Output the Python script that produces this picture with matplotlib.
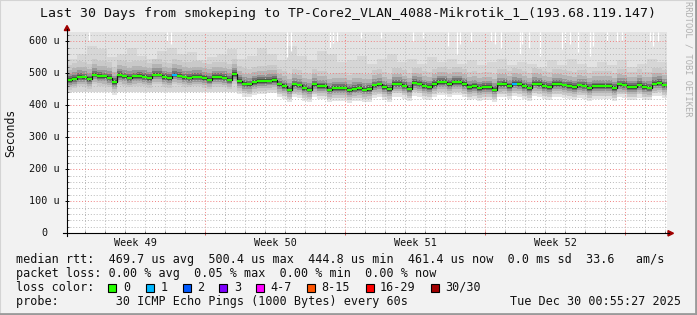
import numpy as np
import matplotlib
matplotlib.use("Agg")
import matplotlib.pyplot as plt
from matplotlib.patches import Rectangle, Polygon
from matplotlib.lines import Line2D
from matplotlib import transforms

# ---------------- data ----------------
title = "Last 30 Days from smokeping to TP-Core2_VLAN_4088-Mikrotik_1_(193.68.119.147)"
step_days = 0.25  # sample spacing (days)
# median rtt (microseconds), one value per 6 hours over 30 days
median_us = [
    478, 483, 489, 487, 481, 496, 491, 490, 486, 472,
    494, 490, 486, 490, 491, 489, 485, 496, 496, 488,
    485, 496, 493, 487, 486, 489, 489, 484, 480, 488,
    488, 486, 480, 497, 475, 467, 465, 472, 476, 476,
    477, 478, 465, 459, 449, 465, 462, 454, 449, 465,
    459, 459, 449, 454, 454, 453, 447, 452, 454, 449,
    451, 462, 465, 456, 450, 467, 467, 461, 452, 470,
    467, 460, 457, 466, 473, 472, 466, 473, 473, 466,
    456, 459, 454, 457, 457, 449, 465, 466, 459, 468,
    466, 459, 454, 468, 466, 460, 457, 466, 466, 462,
    460, 457, 462, 461, 454, 459, 459, 459, 459, 454,
    465, 464, 457, 457, 464, 457, 455, 468, 470, 462,
]
# samples with 1 lost ping (day positions)
loss1_days = [5.25, 22.25]
# upper smoke "mountains" (us), one value per 12 hours
smoke_upper_us = [
    545, 560, 585, 575, 550, 560, 580, 555, 545, 570, 580, 560, 565, 540,
    550, 560, 575, 545, 555, 580, 560, 540, 585, 555, 540, 570, 560, 535,
    540, 555, 530, 545, 560, 535, 545, 530, 550, 535, 545, 530, 540, 525,
    535, 545, 525, 535, 530, 520, 540, 525, 545, 530, 520, 535, 525, 540,
    520, 530, 545, 535,
]
# short intervals where the max ping was below the graph top (day, us)
gap_days = [1.1, 5.0, 5.2, 11.0, 11.2, 13.15, 13.3, 13.5, 14.7, 15.7, 17.3,
            17.8, 19.05, 19.5, 19.65, 20.2, 21.2, 21.4, 21.7, 22.65, 22.75,
            23.1, 23.65, 24.75, 24.9, 25.15, 25.55, 26.15, 26.3, 27.0, 27.5,
            27.75, 29.15, 29.3, 29.55]
gap_bottom_us = [605, 600, 590, 550, 570, 580, 595, 600, 610, 610, 600,
                 610, 585, 560, 590, 600, 600, 590, 580, 560, 590,
                 580, 555, 575, 595, 590, 565, 555, 585, 600, 600,
                 605, 600, 585, 600]
y_ticks = [0, 100, 200, 300, 400, 500, 600]
y_tick_labels = ["0", "100 u", "200 u", "300 u", "400 u", "500 u", "600 u"]
week_labels = ["Week 49", "Week 50", "Week 51", "Week 52"]
week_label_days = [3.4, 10.4, 17.4, 24.4]
week_boundary_days = [6.9, 13.9, 20.9, 27.9]
loss_labels = ["0", "1", "2", "3", "4-7", "8-15", "16-29", "30/30"]
loss_colors = ["#26ff00", "#00b8ff", "#0059ff", "#7e00ff", "#ff00ff",
               "#ff5500", "#ff0000", "#a10000"]
legend_rtt = "median rtt:  469.7 us avg  500.4 us max  444.8 us min  461.4 us now  0.0 ms sd  33.6   am/s"
legend_loss = "packet loss: 0.00 % avg  0.05 % max  0.00 % min  0.00 % now"
probe_txt = "probe:        30 ICMP Echo Pings (1000 Bytes) every 60s"
date_txt = "Tue Dec 30 00:55:27 2025"
y_top = 628

# ---------------- figure ----------------
W, H = 697, 315
MONO = "DejaVu Sans Mono"
fig = plt.figure(figsize=(W / 100, H / 100), dpi=100, facecolor="#f2f2f2")


def fx(x):
    return x / W


def fy(y):
    return 1 - y / H


ax = fig.add_axes([fx(67), fy(233.3), 600 / W, (233.3 - 32.3) / H])
ax.set_facecolor("white")
ax.set_xlim(0, 30)
ax.set_ylim(0, y_top)

med = np.array(median_us, dtype=float)
n = len(med)
t_edges = np.arange(n + 1) * step_days
med_e = np.append(med, med[-1])

# smoke layers (offsets relative to median)
ax.fill_between(t_edges, med_e - 40, y_top, step="post", color="#e3e3e3", lw=0, zorder=1)
up = np.array(smoke_upper_us, dtype=float)
t_up = np.arange(len(up) + 1) * 0.5
ax.fill_between(t_up, 440, np.append(up, up[-1]), step="post", color="#d6d6d6", lw=0, zorder=1.05)
ax.vlines(gap_days, gap_bottom_us, y_top, color="white", lw=0.9, zorder=1.1)
layers = [(-30, 48, "#c9c9c9"), (-22, 32, "#b4b4b4"), (-15, 20, "#979797"),
          (-9, 12, "#727272"), (-5, 6, "#4a4a4a")]
for lo, hi, c in layers:
    ax.fill_between(t_edges, med_e + lo, med_e + hi, step="post", color=c, lw=0, zorder=1.2)

# grid
ax.set_yticks(y_ticks)
ax.set_yticks(np.arange(0, y_top, 20), minor=True)
ax.set_xticks(week_boundary_days)
ax.set_xticks(np.arange(0.9, 30, 1.0), minor=True)
ax.set_axisbelow(False)
ax.grid(which="minor", color="#b8b8b8", lw=0.7, linestyle=(0, (1, 2)), zorder=2.5)
ax.grid(which="major", color="#f08080", lw=0.7, linestyle=(0, (1, 2)), zorder=2.6)
ax.tick_params(which="both", labelbottom=False, labelleft=False)
ax.tick_params(which="major", length=2.5, width=0.7, color="black", direction="inout")
ax.tick_params(which="minor", length=1.5, width=0.6, color="#555555", direction="in")
ax.tick_params(axis="x", which="major", color="#d06060")
for s in ax.spines.values():
    s.set_visible(False)

# median line: black risers + green/cyan level segments
ax.step(t_edges, med_e, where="post", color="#111111", lw=0.9, zorder=3)
seg_colors = [loss_colors[0]] * n
for d in loss1_days:
    seg_colors[int(round(d / step_days))] = loss_colors[1]
ax.hlines(med, t_edges[:-1], t_edges[1:], colors=seg_colors, lw=1.6, zorder=3.2)

# axis lines and arrows
fig.add_artist(Line2D([fx(67), fx(67)], [fy(236), fy(29)], color="black", lw=0.8))
fig.add_artist(Line2D([fx(63), fx(669)], [fy(233.3), fy(233.3)], color="black", lw=0.8))
fig.add_artist(Polygon([[fx(64.3), fy(30.5)], [fx(69.7), fy(30.5)], [fx(67), fy(25.5)]],
                       closed=True, color="#a00000", transform=fig.transFigure))
fig.add_artist(Polygon([[fx(668), fy(230.6)], [fx(668), fy(236)], [fx(673.5), fy(233.3)]],
                       closed=True, color="#a00000", transform=fig.transFigure))

# y tick labels
ytrans = transforms.blended_transform_factory(fig.transFigure, ax.transData)
for v, lab in zip(y_ticks, y_tick_labels):
    xr = 47.8 if lab == "0" else 59.6
    fig.text(fx(xr), v, lab, transform=ytrans, ha="right", va="center",
             family=MONO, fontsize=7.3, color="#111111")
# week labels
for d, lab in zip(week_label_days, week_labels):
    ax.text(d, -9.6 / 201, lab, transform=ax.get_xaxis_transform(), ha="center",
            va="center", family=MONO, fontsize=7.3, color="#111111")

# title, axis label, watermark
fig.text(fx(347.5), fy(14), title, ha="center", va="center", family=MONO,
         fontsize=9.5, color="#111111")
fig.text(fx(10.5), fy(133), "Seconds", rotation=90, ha="center", va="center",
         family=MONO, fontsize=8.3, color="#111111")
fig.text(fx(688), fy(59), "RRDTOOL / TOBI OETIKER", rotation=270, ha="center",
         va="center", family=MONO, fontsize=6.2, color="#b0b0b0")

# legend
LF = 8.5
fig.text(fx(15.5), fy(259.3), legend_rtt, ha="left", va="center", family=MONO, fontsize=LF, color="#111111")
fig.text(fx(15.5), fy(273.3), legend_loss, ha="left", va="center", family=MONO, fontsize=LF, color="#111111")
fig.text(fx(15.5), fy(287.3), "loss color:", ha="left", va="center", family=MONO, fontsize=LF, color="#111111")
box_x = [108.3, 145.7, 182.5, 219.3, 256.0, 306.7, 365.5, 430.7]
for bx, lab, c in zip(box_x, loss_labels, loss_colors):
    fig.add_artist(Rectangle((fx(bx), fy(291.5)), 8 / W, 8 / H, facecolor=c,
                             edgecolor="black", lw=0.8, transform=fig.transFigure))
    fig.text(fx(bx + 14.5), fy(287.3), lab, ha="left", va="center", family=MONO,
             fontsize=LF, color="#111111")
fig.text(fx(15.5), fy(301.2), probe_txt, ha="left", va="center", family=MONO, fontsize=LF, color="#111111")
fig.text(fx(681), fy(301.2), date_txt, ha="right", va="center", family=MONO, fontsize=LF, color="#111111")

# frame shading
fig.add_artist(Line2D([0, 0], [0, 1], color="#d4d4d4", lw=1.5))
fig.add_artist(Line2D([0, 1], [1, 1], color="#d4d4d4", lw=1.5))
fig.add_artist(Line2D([1 - 1 / W, 1 - 1 / W], [0, 1], color="#9a9a9a", lw=2))
fig.add_artist(Line2D([0, 1], [1 / H, 1 / H], color="#9a9a9a", lw=2))

fig.savefig("out.png", dpi=100, facecolor=fig.get_facecolor())
